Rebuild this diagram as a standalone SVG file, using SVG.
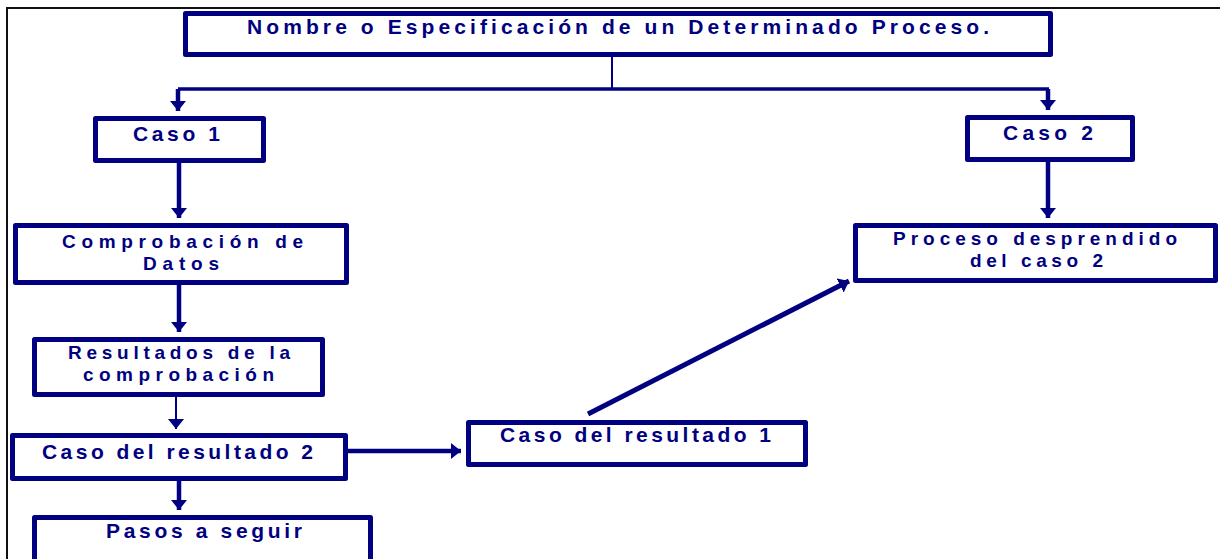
<svg xmlns="http://www.w3.org/2000/svg" width="1220" height="559" viewBox="0 0 1220 559">
<style>
.box{fill:#fff;stroke:#000080;stroke-width:5;stroke-linejoin:round}
.lbl{font-family:"Liberation Sans",Arial,sans-serif;font-weight:bold;font-size:21px;fill:#000080}
.two{font-size:19px}
.c{fill:none;stroke:#000080;stroke-width:4.5}
.thin{stroke-width:2}
</style>
<defs>
<marker id="ah" markerUnits="userSpaceOnUse" markerWidth="10" markerHeight="16" refX="10" refY="8" orient="auto" viewBox="0 0 10 16">
<path d="M0,0 L10,8 L0,16 z" fill="#000080"/>
</marker>
</defs>
<rect width="1220" height="559" fill="#fff"/>
<path d="M7,559 V8 H1220" fill="none" stroke="#111" stroke-width="2"/>
<g id="connectors">
<line class="c thin" x1="612" y1="57" x2="612" y2="89"/>
<line class="c" x1="178" y1="89" x2="1049" y2="89" style="stroke-width:3.5"/>
<line class="c" x1="178" y1="89" x2="178" y2="111" marker-end="url(#ah)"/>
<line class="c" x1="1048" y1="89" x2="1048" y2="110" marker-end="url(#ah)"/>
<line class="c" x1="179" y1="163" x2="179" y2="218" marker-end="url(#ah)"/>
<line class="c" x1="179" y1="285" x2="179" y2="332" marker-end="url(#ah)"/>
<line class="c thin" x1="176" y1="397" x2="176" y2="429" marker-end="url(#ah)"/>
<line class="c" x1="179" y1="481" x2="179" y2="510" marker-end="url(#ah)"/>
<line class="c" x1="348" y1="451" x2="461" y2="451" marker-end="url(#ah)"/>
<line class="c" x1="588" y1="414" x2="849" y2="281" style="stroke-width:5" marker-end="url(#ah)"/>
<line class="c" x1="1048" y1="162" x2="1048" y2="218" marker-end="url(#ah)"/>
</g>
<g id="n-title">
<rect class="box" x="185.5" y="13.5" width="865" height="41"/>
<text class="lbl" x="247" y="34" textLength="742" lengthAdjust="spacing">Nombre o Especificación  de  un Determinado Proceso.</text>
</g>
<g id="n-caso1">
<rect class="box" x="95.5" y="118.5" width="168" height="42"/>
<text class="lbl" x="133" y="141" textLength="87" lengthAdjust="spacing">Caso 1</text>
</g>
<g id="n-caso2">
<rect class="box" x="967.5" y="117.5" width="165" height="42"/>
<text class="lbl" x="1003" y="140" textLength="90" lengthAdjust="spacing">Caso 2</text>
</g>
<g id="n-comprobacion">
<rect class="box" x="15.5" y="225.5" width="331" height="57"/>
<text class="lbl two" x="62" y="248" textLength="241" lengthAdjust="spacing">Comprobación de</text>
<text class="lbl two" x="143" y="270" textLength="76" lengthAdjust="spacing">Datos</text>
</g>
<g id="n-resultados">
<rect class="box" x="34.5" y="339.5" width="288" height="55"/>
<text class="lbl two" x="68" y="359" textLength="222" lengthAdjust="spacing">Resultados de la</text>
<text class="lbl two" x="83" y="381" textLength="191" lengthAdjust="spacing">comprobación</text>
</g>
<g id="n-caso-res2">
<rect class="box" x="12.5" y="435.5" width="333" height="43"/>
<text class="lbl" x="42" y="459" textLength="271" lengthAdjust="spacing">Caso del resultado 2</text>
</g>
<g id="n-pasos">
<rect class="box" x="34.5" y="517.5" width="336" height="60"/>
<text class="lbl" x="106" y="538" textLength="196" lengthAdjust="spacing">Pasos a seguir</text>
</g>
<g id="n-caso-res1">
<rect class="box" x="468.5" y="422.5" width="337" height="42"/>
<text class="lbl" x="500" y="442" textLength="271" lengthAdjust="spacing">Caso del resultado 1</text>
</g>
<g id="n-proceso">
<rect class="box" x="855.5" y="225.5" width="360" height="55"/>
<text class="lbl two" x="893" y="245" textLength="284" lengthAdjust="spacing">Proceso desprendido</text>
<text class="lbl two" x="970" y="267" textLength="133" lengthAdjust="spacing">del caso 2</text>
</g>
</svg>
